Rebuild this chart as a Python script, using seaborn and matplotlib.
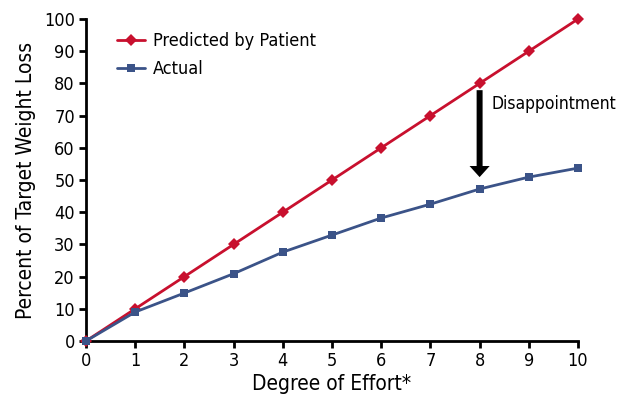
import matplotlib
matplotlib.use("Agg")
import matplotlib.pyplot as plt
import seaborn as sns
import pandas as pd

effort = [0, 1, 2, 3, 4, 5, 6, 7, 8, 9, 10]
predicted = [0, 10, 20, 30, 40, 50, 60, 70, 80, 90, 100]
actual = [0, 9.0, 14.9, 20.9, 27.6, 32.9, 38.2, 42.5, 47.2, 50.9, 53.7]
series_names = ["Predicted by Patient", "Actual"]
x_ticks = [0, 1, 2, 3, 4, 5, 6, 7, 8, 9, 10]
y_ticks = [0, 10, 20, 30, 40, 50, 60, 70, 80, 90, 100]

sns.set_theme(style="white")
plt.rcParams["font.family"] = ["DejaVu Sans"]
plt.rcParams["font.stretch"] = "condensed"
plt.rcParams["text.color"] = "black"
plt.rcParams["axes.labelcolor"] = "black"
plt.rcParams["xtick.color"] = "black"
plt.rcParams["ytick.color"] = "black"

df = pd.DataFrame({
    "effort": effort * 2,
    "value": predicted + actual,
    "series": [series_names[0]] * len(effort) + [series_names[1]] * len(effort),
})

fig = plt.figure(figsize=(6.24, 4.01), dpi=100)
ax = fig.add_axes([0.1378, 0.1496, 0.7885, 0.803])

palette = {series_names[0]: "#c8102e", series_names[1]: "#3b5388"}
markers = {series_names[0]: "D", series_names[1]: "s"}
sns.lineplot(data=df, x="effort", y="value", hue="series", style="series",
             palette=palette, markers=markers, dashes=False, linewidth=2,
             markersize=6, markeredgewidth=0, ax=ax, clip_on=False, zorder=3)

ax.set_xlim(0, 10)
ax.set_ylim(0, 100)
ax.set_xticks(x_ticks)
ax.set_yticks(y_ticks)
ax.tick_params(axis="both", direction="out", length=5, width=2, color="black",
               labelsize=13, pad=3, left=True, bottom=True)
for s in ["top", "right"]:
    ax.spines[s].set_visible(False)
for s in ["left", "bottom"]:
    ax.spines[s].set_color("black")
    ax.spines[s].set_linewidth(2)

ax.set_xlabel("Degree of Effort*", fontsize=15, labelpad=3)
ax.set_ylabel("Percent of Target Weight Loss", fontsize=15, labelpad=6)

leg = ax.legend(loc="upper left", bbox_to_anchor=(0.03, 1.01), frameon=False,
                fontsize=13, handlelength=1.55, handletextpad=0.45, labelspacing=0.55)

# Gap between what was expected and what happened at effort level 8
ax.annotate("", xy=(effort[8], 50.9), xytext=(effort[8], 77.9),
            arrowprops=dict(width=4.3, headwidth=14.5, headlength=8,
                            facecolor="black", edgecolor="none", shrink=0))
ax.text(effort[8] + 0.25, 73.6, "Disappointment", fontsize=12.5, ha="left", va="center")

fig.savefig("out.png", dpi=100)
